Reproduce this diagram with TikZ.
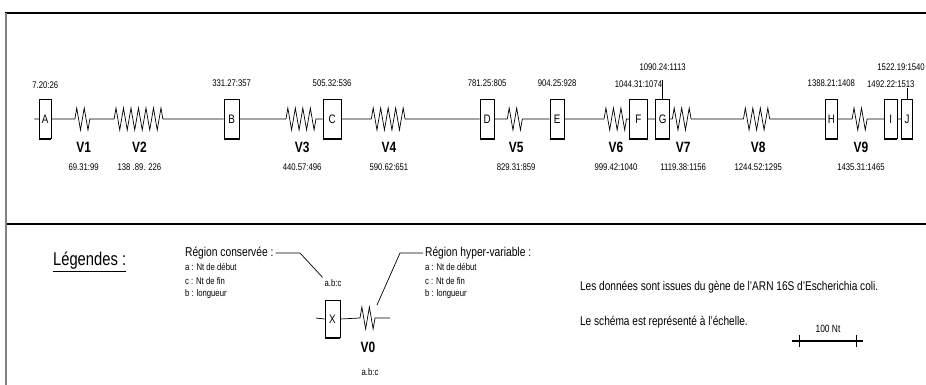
\documentclass[tikz,border=0pt]{standalone}
\usepackage{fontspec}
\setmainfont[FakeStretch=0.8]{Liberation Sans}
\usetikzlibrary{positioning,decorations.pathmorphing,backgrounds}

\tikzset{
  consbox/.style={draw, fill=white, minimum height=0.78cm, inner sep=0pt, font=\fontsize{7}{8}\selectfont},
  ntlabel/.style={font=\fontsize{5.5}{6}\selectfont, inner sep=1pt},
  vlabel/.style={font=\fontsize{8.5}{9}\selectfont\bfseries, inner sep=1pt},
  reglabel/.style={font=\fontsize{7.3}{8}\selectfont, inner sep=1pt, anchor=west},
  itemlabel/.style={font=\fontsize{5.5}{6}\selectfont, inner sep=1pt, anchor=west},
  infotext/.style={font=\fontsize{7.2}{8}\selectfont, inner sep=1pt, anchor=west},
  zz/.style={decoration={zigzag, segment length=0.15cm, amplitude=0.22cm}},
  shade/.style={line width=1.3pt},
  frame/.style={line width=1.1pt},
}

\begin{document}
\begin{tikzpicture}[x=0.02cm, y=-0.02cm]
  \useasboundingbox (0,0) rectangle (926,385);
  % cadre
  \draw[frame] (5,13) -- (926,13);
  \draw[frame] (5,224) -- (926,224);
  \draw[gray, line width=1pt] (6,13) -- (6,385);

  % ARN 16S, a l'echelle : 1 unite = 1 Nt
  \begin{scope}[x=0.011386cm, xshift=0.712cm]
    \coordinate (start) at (-2,119);
    % regions conservees
    \foreach \n/\a/\b/\t/\ly in {A/7/20/{7.20:26}/85, B/331/27/{331.27:357}/83,
        C/505/32/{505.32:536}/83, D/781/25/{781.25:805}/83, E/904/25/{904.25:928}/83,
        F/1044/31/{1044.31:1074}/84, G/1090/24/{1090.24:1113}/67, H/1388/21/{1388.21:1408}/83,
        I/1492/22/{1492.22:1513}/84}{
      \node[consbox, minimum width=\b*0.011386cm] (\n) at ({\a+\b/2},119) {\n};
      \draw[shade] (\n.south west) -- (\n.south east);
      \node[ntlabel] (lab\n) at ({\a+\b/2},\ly) {\t};
    }
    \node[consbox, minimum width=19*0.011386cm] (J) at (1531.5,119) {J};
    \draw[shade] (J.south west) -- (J.south east);
    \node[ntlabel] (labJ) at (1521,67) {1522.19:1540};
    \draw (G.north) -- ++(0,-19);
    \draw (J.north) -- ++(0,-11);
    % regions hyper-variables
    \foreach \n/\a/\b/\t in {V1/69/31/{69.31:99}, V2/138/89/{138 .89. 226},
        V3/440/57/{440.57:496}, V4/590/62/{590.62:651}, V5/829/31/{829.31:859},
        V6/999/42/{999.42:1040}, V7/1119/38/{1119.38:1156}, V8/1244/52/{1244.52:1295},
        V9/1435/31/{1435.31:1465}}{
      \coordinate (s\n) at (\a,119);
      \coordinate (e\n) at ({\a+\b},119);
      \node[vlabel] (lab\n) at ({\a+\b/2},147) {\n};
      \node[ntlabel] (nt\n) at ({\a+\b/2},167) {\t};
    }
    \draw (start) -- (A.west)
      (A.east) -- (sV1) decorate[zz]{(sV1) -- (eV1)} (eV1) -- (sV2) decorate[zz]{(sV2) -- (eV2)} (eV2) -- (B.west)
      (B.east) -- (sV3) decorate[zz]{(sV3) -- (eV3)} (eV3) -- (C.west)
      (C.east) -- (sV4) decorate[zz]{(sV4) -- (eV4)} (eV4) -- (D.west)
      (D.east) -- (sV5) decorate[zz]{(sV5) -- (eV5)} (eV5) -- (E.west)
      (E.east) -- (sV6) decorate[zz]{(sV6) -- (eV6)} (eV6) -- (F.west)
      (F.east) -- (G.west)
      (G.east) -- (sV7) decorate[zz]{(sV7) -- (eV7)} (eV7) -- (sV8) decorate[zz]{(sV8) -- (eV8)} (eV8) -- (H.west)
      (H.east) -- (sV9) decorate[zz]{(sV9) -- (eV9)} (eV9) -- (I.west)
      (I.east) -- (J.west);
  \end{scope}

  % legendes
  \node[font=\fontsize{10.5}{12}\selectfont, anchor=west, inner sep=1pt] (leg) at (51,262) {\underline{Légendes :}};
  \node[reglabel] (regC) at (183,253) {Région conservée :};
  \node[itemlabel] (regCa) at (183,267) {a : Nt de début};
  \node[itemlabel] (regCc) at (183,281) {c : Nt de fin};
  \node[itemlabel] (regCb) at (183,294) {b : longueur};
  \node[reglabel] (regH) at (423,253) {Région hyper-variable :};
  \node[itemlabel] (regHa) at (423,267) {a : Nt de début};
  \node[itemlabel] (regHc) at (423,281) {c : Nt de fin};
  \node[itemlabel] (regHb) at (423,294) {b : longueur};

  \node[consbox, minimum width=0.3cm, minimum height=0.74cm] (X) at (332.5,319) {X};
  \draw[shade] (X.south west) -- (X.south east);
  \node[ntlabel] (labX) at (333,283) {a.b:c};
  \coordinate (legL) at (316,318);
  \coordinate (legR) at (390,318);
  \coordinate (sV0) at (360,318);
  \coordinate (eV0) at (376,318);
  \draw (legL) -- (X.west) (X.east) -- (sV0) decorate[zz]{(sV0) -- (eV0)} (eV0) -- (legR);
  \node[vlabel] (labV0) at (368,347) {V0};
  \node[ntlabel] (ntV0) at (370,372) {a.b:c};
  \draw (regC.east) -- (300,253) -- (labX.north west);
  \draw (regH.west) -- (400,253) -- (377,305);

  % sources et echelle
  \node[infotext] (src) at (578,287) {Les données sont issues du gène de l'ARN 16S d'Escherichia coli.};
  \node[infotext] (ech) at (578,322) {Le schéma est représenté à l'échelle.};
  \coordinate (barL) at (792,341);
  \coordinate (barR) at (863,341);
  \coordinate (tick1) at (799,341);
  \coordinate (tick2) at (856,341);
  \draw[line width=1pt] (barL) -- (barR);
  \draw ([yshift=0.12cm]tick1) -- ([yshift=-0.12cm]tick1);
  \draw ([yshift=0.12cm]tick2) -- ([yshift=-0.12cm]tick2);
  \node[ntlabel, font=\fontsize{6}{7}\selectfont] (barlab) at (828,329) {100 Nt};
\end{tikzpicture}
\end{document}
